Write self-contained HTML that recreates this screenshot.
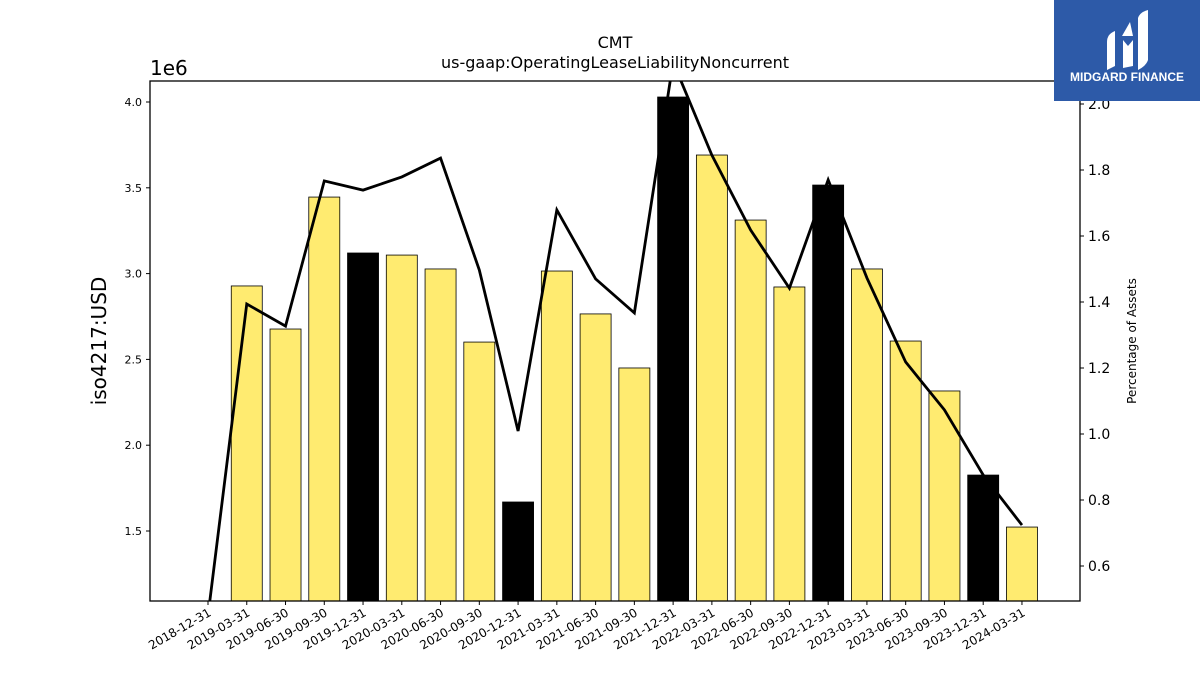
<!DOCTYPE html>
<html><head><meta charset="utf-8"><style>
body{margin:0;background:#fff;width:1200px;height:675px;overflow:hidden;font-family:"Liberation Sans","DejaVu Sans",sans-serif;}
</style></head><body>
<svg id="c" width="1200" height="675" xmlns="http://www.w3.org/2000/svg" font-family="DejaVu Sans, Liberation Sans, sans-serif">
<text x="615" y="48" text-anchor="middle" font-size="16">CMT</text>
<text x="615" y="68" text-anchor="middle" font-size="16">us-gaap:OperatingLeaseLiabilityNoncurrent</text>
<text x="150" y="75" font-size="20">1e6</text>
<text transform="translate(106,341) rotate(-90)" text-anchor="middle" font-size="20">iso4217:USD</text>
<text transform="translate(1136,341) rotate(-90)" text-anchor="middle" font-size="12">Percentage of Assets</text>
<g id="g"></g>
<rect x="150" y="81" width="930" height="520" fill="none" stroke="#000" stroke-width="1.3"/>
<g>
<rect x="1054" y="0" width="146" height="101" fill="#2d5aa8"/>
<path d="M1107 70 L1107 42 Q1107 34 1115 31 L1115 66 Z M1123 68 L1123 40 L1128 46 L1133 40 L1133 66 Z M1138 66 L1138 18 Q1140 12 1148 10 L1148 60 Q1146 66 1138 70 Z M1122 36 L1130 22 L1133 36 Z" fill="#fff"/>
<text x="1127" y="81" text-anchor="middle" font-size="12" font-weight="bold" fill="#fff" font-family="Liberation Sans, sans-serif">MIDGARD FINANCE</text>
</g>
</svg>
<script>
const categories=["2018-12-31","2019-03-31","2019-06-30","2019-09-30","2019-12-31","2020-03-31","2020-06-30","2020-09-30","2020-12-31","2021-03-31","2021-06-30","2021-09-30","2021-12-31","2022-03-31","2022-06-30","2022-09-30","2022-12-31","2023-03-31","2023-06-30","2023-09-30","2023-12-31","2024-03-31"];
const barValues=[null,2.928,2.677,3.446,3.12,3.108,3.027,2.601,1.669,3.015,2.765,2.45,4.029,3.691,3.312,2.922,3.516,3.027,2.607,2.316,1.826,1.523];
const pctValues=[0.45,1.394,1.327,1.767,1.739,1.779,1.836,1.497,1.009,1.679,1.470,1.367,2.127,1.845,1.618,1.442,1.770,1.473,1.218,1.073,0.876,0.724];
const leftTicks=[1.5,2.0,2.5,3.0,3.5,4.0];
const rightTicks=[0.6,0.8,1.0,1.2,1.4,1.6,1.8,2.0];
const NS="http://www.w3.org/2000/svg";
const g=document.getElementById('g');
const X0=150,X1=1080,Y0=81,Y1=601;
const yL=v=>531-(v-1.5)*171.6;
const yR=v=>104+(2.0-v)*330;
const xC=i=>208+i*38.76;
function mk(t,a){const e=document.createElementNS(NS,t);for(const k in a)e.setAttribute(k,a[k]);g.appendChild(e);return e;}
const defs=mk('defs',{});
const cp=document.createElementNS(NS,'clipPath');cp.setAttribute('id','clip');
const cr=document.createElementNS(NS,'rect');cr.setAttribute('x',X0);cr.setAttribute('y',Y0);cr.setAttribute('width',X1-X0);cr.setAttribute('height',Y1-Y0);cp.appendChild(cr);defs.appendChild(cp);
barValues.forEach((v,i)=>{if(v==null)return;
 const year=categories[i].slice(5)==="12-31";
 const y=yL(v);
 const r=mk('rect',{x:xC(i)-15.5,y:y,width:31,height:Y1-y,fill:year?'#000':'#ffeb70',stroke:'#000','stroke-width':0.8});
 
 
});
const pts=pctValues.map((v,i)=>xC(i)+','+yR(v)).join(' ');
const pl=mk('polyline',{points:pts,fill:'none',stroke:'#000','stroke-width':2.8,'clip-path':'url(#clip)'});


leftTicks.forEach(t=>{const y=yL(t);
 mk('line',{x1:X0-4,x2:X0,y1:y,y2:y,stroke:'#000'});
 const tx=mk('text',{x:X0-8,y:y+4,'text-anchor':'end','font-size':11});tx.textContent=t.toFixed(1);
 
 
});
rightTicks.forEach(t=>{const y=yR(t);
 mk('line',{x1:X1,x2:X1+4,y1:y,y2:y,stroke:'#000'});
 const tx=mk('text',{x:X1+8,y:y+5,'font-size':14});tx.textContent=t.toFixed(1);
 
 
});
categories.forEach((c,i)=>{const x=xC(i);
 mk('line',{x1:x,x2:x,y1:Y1,y2:Y1+4,stroke:'#000'});
 const tx=mk('text',{transform:`translate(${x+4},${Y1+14}) rotate(-30)`,'text-anchor':'end','font-size':12});tx.textContent=c;
 
 
});
</script>
</body></html>
